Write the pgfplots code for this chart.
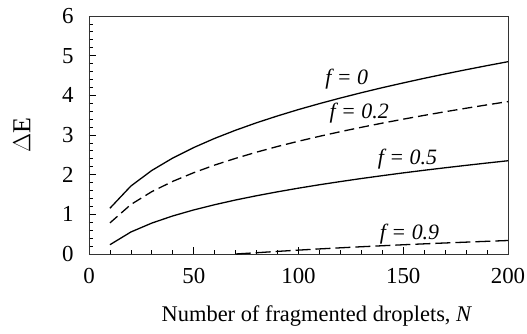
\documentclass[border=0pt]{standalone}
\usepackage{fontspec}
\setmainfont{Liberation Serif}
\usepackage{pgfplots}
\pgfplotsset{compat=1.18}
\begin{document}
\begin{tikzpicture}
\begin{axis}[
  at={(0,0)}, anchor=south west,
  scale only axis, width=419bp, height=238bp,
  xmin=0, xmax=200, ymin=0, ymax=6,
  xtick={0,50,100,150,200}, ytick={0,1,2,3,4,5,6},
  minor x tick num=4, minor y tick num=4,
  tick align=inside, xtick pos=left, ytick pos=left,
  major tick length=7bp, minor tick length=4.5bp,
  every tick/.style={black, line width=0.8pt},
  axis line style={black!80, line width=0.9pt},
  /pgf/number format/assume math mode=true,
  ticklabel style={font=\fontsize{23}{26}\selectfont},
  xticklabel style={yshift=-11bp},
  yticklabel style={xshift=-12bp},
  xlabel={Number of fragmented droplets, \textit{N}},
  xlabel style={font=\fontsize{22.5}{26}\selectfont, at={(axis description cs:0.544,-0.26)}, anchor=center},
  ylabel={$\Delta$E},
  ylabel style={font=\fontsize{26}{30}\selectfont, at={(axis description cs:-0.16,0.5)}, anchor=center},
  clip=true,
]
\addplot[black, line width=1.3pt] coordinates {
(10,1.154) (20,1.714) (30,2.107) (40,2.420) (50,2.684) (60,2.915) (70,3.121) (80,3.309) (90,3.481) (100,3.642)
(110,3.791) (120,3.932) (130,4.066) (140,4.193) (150,4.313) (160,4.429) (170,4.540) (180,4.646) (190,4.749) (200,4.848)};
\addplot[black, line width=1.3pt, dash pattern=on 10bp off 5bp] coordinates {
(10,0.784) (20,1.248) (30,1.573) (40,1.832) (50,2.050) (60,2.242) (70,2.412) (80,2.568) (90,2.711) (100,2.843)
(110,2.967) (120,3.084) (130,3.194) (140,3.299) (150,3.399) (160,3.495) (170,3.587) (180,3.675) (190,3.760) (200,3.842)};
\addplot[black, line width=1.3pt] coordinates {
(10,0.234) (20,0.555) (30,0.780) (40,0.960) (50,1.111) (60,1.243) (70,1.362) (80,1.469) (90,1.568) (100,1.660)
(110,1.746) (120,1.826) (130,1.903) (140,1.975) (150,2.045) (160,2.111) (170,2.174) (180,2.235) (190,2.294) (200,2.351)};
\addplot[black, line width=1.3pt, dash pattern=on 15bp off 5bp] coordinates {
(70,0.000) (80,0.032) (90,0.066) (100,0.098) (110,0.128) (120,0.156) (130,0.183) (140,0.208) (150,0.233)
(160,0.256) (170,0.278) (180,0.299) (190,0.320) (200,0.340)};
\node[font=\fontsize{22}{26}\selectfont\itshape] at (axis cs:123,4.41) {f = 0};
\node[font=\fontsize{22}{26}\selectfont\itshape] at (axis cs:129,3.55) {f = 0.2};
\node[font=\fontsize{22}{26}\selectfont\itshape] at (axis cs:152,2.39) {f = 0.5};
\node[font=\fontsize{22}{26}\selectfont\itshape] at (axis cs:153,0.50) {f = 0.9};
\end{axis}
\pgfresetboundingbox
\useasboundingbox (-89bp,-80bp) rectangle (438bp,254bp);
\end{tikzpicture}
\end{document}
